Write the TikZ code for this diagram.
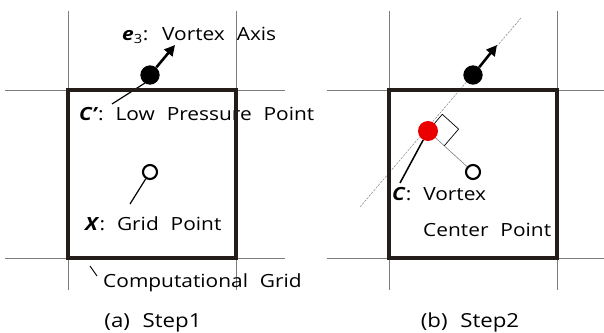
\documentclass[tikz,border=0pt]{standalone}
\usepackage{fontspec}
\setmainfont{Open Sans}[WordSpace=2.2, FakeStretch=1.15]
\usetikzlibrary{arrows.meta}
\definecolor{gridgray}{RGB}{125,125,125}
\definecolor{boxblack}{RGB}{35,28,25}
\definecolor{centerred}{RGB}{235,0,0}
\tikzset{
  gridline/.style={gridgray, line width=0.6pt},
  cellbox/.style={boxblack, line width=3.4pt, line join=miter},
  leader/.style={black, line width=1pt},
  label/.style={anchor=base west, inner sep=0pt, font=\fontsize{15.5}{17}\selectfont},
  caption/.style={anchor=base, inner sep=0pt, font=\fontsize{16.5}{19}\selectfont},
  lowpt/.style={circle, fill=black, inner sep=0pt, minimum size=0.58cm},
  gridpt/.style={circle, draw=black, line width=1.8pt, fill=white, inner sep=0pt, minimum size=0.42cm},
  centerpt/.style={circle, fill=centerred, inner sep=0pt, minimum size=0.6cm},
  axisarrow/.style={black, line width=2.2pt, -{Triangle[length=9pt,width=9pt]}},
}
\begin{document}
\begin{tikzpicture}[x=0.03cm, y=-0.03cm]
  \useasboundingbox (0,0) rectangle (604,333);

  % Step 1: grid lines
  \draw[gridline] (68,11) -- (68,290);
  \draw[gridline] (236,11) -- (236,290);
  \draw[gridline] (5,90) -- (285,90);
  \draw[gridline] (5,258) -- (285,258);

  % Step 1: labels
  \node[label] (axisA) at (122,40) {\textbf{\textit{e}}\textsubscript{3}: Vortex Axis};
  \node[label] (lowA) at (79,120) {\textbf{\textit{C’}}: Low Pressure Point};
  \node[label] (gridA) at (85,230) {\textbf{\textit{X}}: Grid Point};
  \node[label] (cellA) at (103,287) {Computational Grid};
  \node[caption] (capA) at (153,327) {(a) Step1};

  % Step 1: points
  \node[lowpt] (vA) at (150,75) {};
  \node[gridpt] (xA) at (150,172) {};
  \coordinate (tipA) at (175,45);
  \draw[axisarrow] (vA) -- (tipA);

  % Step 1: leaders
  \coordinate (lowendA) at (112,104);
  \coordinate (lowptA) at (145,83);
  \draw[leader] (lowendA) -- (lowptA);
  \coordinate (gridendA) at (130,204);
  \draw[leader] (gridendA) -- (xA);
  \coordinate (cellendA) at (90,266);
  \coordinate (cellptA) at (97,276);
  \draw[leader, line width=0.8pt] (cellendA) -- (cellptA);

  % Step 1: computational cell
  \draw[cellbox] (68,90) rectangle (236,258);

  % Step 2: grid lines
  \draw[gridline] (389,11) -- (389,290);
  \draw[gridline] (557,11) -- (557,290);
  \draw[gridline] (327,90) -- (604,90);
  \draw[gridline] (327,258) -- (604,258);

  % Step 2: labels
  \node[label] (centerB) at (392,200) {\textbf{\textit{C}}: Vortex};
  \node[label] (pointB) at (423,236) {Center Point};
  \node[caption] (capB) at (470,327) {(b) Step2};

  % Step 2: vortex axis and projection
  \coordinate (axtop) at (521,18);
  \coordinate (axbot) at (360,207);
  \draw[gridline, line width=0.4pt, dashed, dash pattern=on 2pt off 1pt] (axtop) -- (axbot);
  \node[gridpt] (xB) at (473,172) {};
  \coordinate (cB) at (428,131);
  \draw[gridline, line width=0.5pt] (cB) -- (xB);
  \draw[black, line width=0.6pt] (cB) -- ++(14.3,-16.7) -- ++(16.3,14.8) -- ++(-14.3,16.7);
  \node[centerpt] (redB) at (cB) {};
  \node[lowpt] (vB) at (473,75) {};
  \coordinate (tipB) at (497,45);
  \draw[axisarrow] (vB) -- (tipB);

  % Step 2: leader
  \coordinate (centerendB) at (400,183);
  \draw[leader, line width=1.3pt] (centerendB) -- (redB);

  % Step 2: computational cell
  \draw[cellbox] (389,90) rectangle (557,258);
\end{tikzpicture}
\end{document}
